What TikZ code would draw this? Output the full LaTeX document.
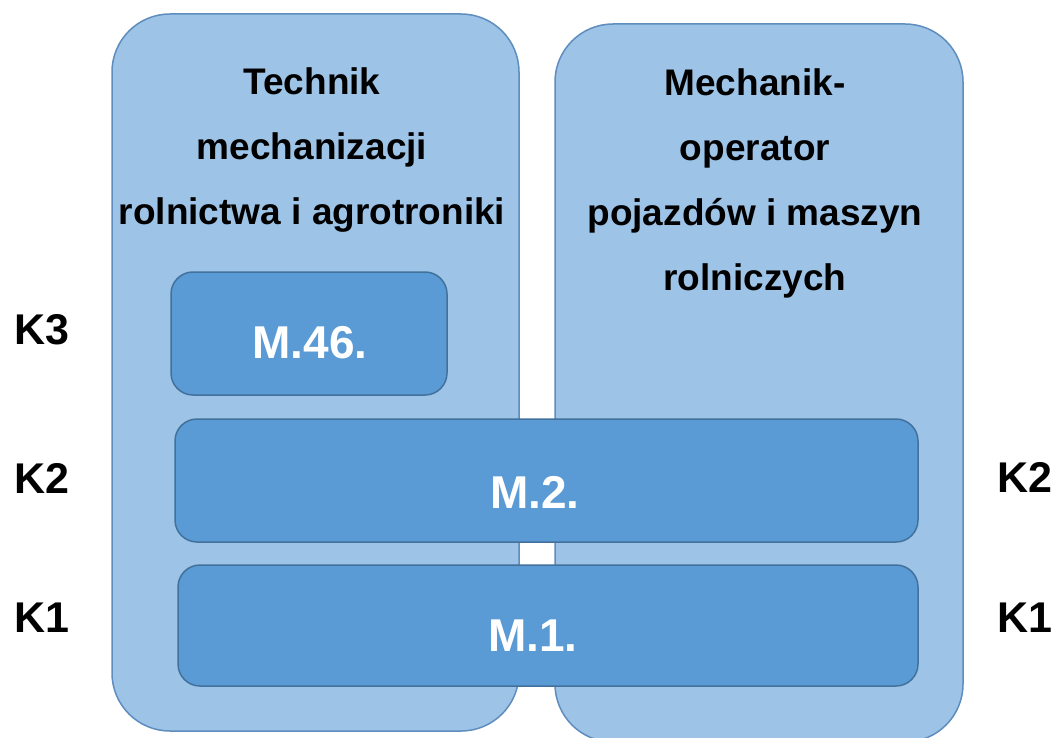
\documentclass[tikz,border=0pt]{standalone}
\usepackage{fontspec}
\setmainfont{Liberation Sans}
\definecolor{outerfill}{HTML}{9DC3E6}
\definecolor{outerline}{HTML}{5E8DBE}
\definecolor{innerfill}{HTML}{5B9BD5}
\definecolor{innerline}{HTML}{41719C}
\tikzset{
  outerbox/.style={draw=outerline, fill=outerfill, line width=1.5pt, rounded corners=58pt, inner sep=0pt},
  innerbox/.style={draw=innerline, fill=innerfill, line width=1.5pt, rounded corners=22pt, inner sep=0pt},
  title/.style={align=center, font=\bfseries\fontsize{37}{65}\selectfont, text=black, inner sep=0pt},
  mtext/.style={font=\bfseries\fontsize{46}{50}\selectfont, text=white, inner sep=0pt},
  klabel/.style={font=\bfseries\fontsize{43}{45}\selectfont, text=black, inner sep=0pt}
}
\begin{document}
\begin{tikzpicture}[x=1pt, y=-1pt]
\useasboundingbox (0,0) rectangle (1059,738);
\node[outerbox, minimum width=407pt, minimum height=717pt] (left) at (315.5,372.5) {};
\node[outerbox, minimum width=408pt, minimum height=718pt] (right) at (759,383) {};
\node[title] (tleft) at (312,150) {Technik\\mechanizacji\\rolnictwa i agrotroniki};
\node[title] (tright) at (755,183) {Mechanik-\\operator\\pojazdów i maszyn\\rolniczych};
\node[innerbox, minimum width=276pt, minimum height=123pt] (m46) at (309,333.5) {};
\node[innerbox, minimum width=743pt, minimum height=123pt] (m2) at (546.5,480.5) {};
\node[innerbox, minimum width=740pt, minimum height=121pt] (m1) at (548,625.5) {};
\node[mtext] (t46) at (310,343) {M.46.};
\node[mtext] (t2) at (535,492) {M.2.};
\node[mtext] (t1) at (533,636) {M.1.};
\node[klabel] (k3) at (42,330) {K3};
\node[klabel] (k2l) at (42,478) {K2};
\node[klabel] (k1l) at (42,618) {K1};
\node[klabel] (k2r) at (1025,477) {K2};
\node[klabel] (k1r) at (1025,618) {K1};
\end{tikzpicture}
\end{document}
